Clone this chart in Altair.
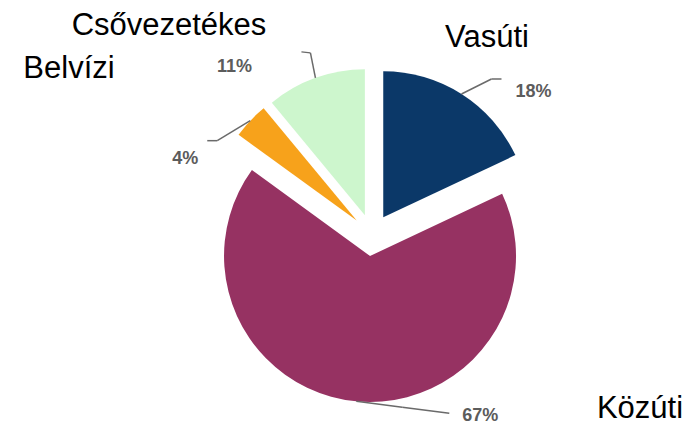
import altair as alt
import pandas as pd

# ---- data ----
categories = ["Vasúti", "Közúti", "Belvízi", "Csővezetékes"]
shares = [18, 67, 4, 11]
colors = ["#0b3868", "#963262", "#f7a21b", "#cdf6cd"]

# ---- layout (pixels inside the view) ----
W, H = 678, 418
CX, CY, R, EXPLODE = 364, 227, 146, 21
leader_elbow = [(30, -15), (46, 6), (-33, 20), (-5, -25)]
leader_end = [(40, -15), (93, 12), (-43, 20), (-14, -26)]
pct_offset = [(72, -2), (124, 15), (-65, 38), (-81, -11)]
name_pos = [(479, 39), (632, 410), (61, 70), (161, 27)]

df = pd.DataFrame({
    "cat": categories,
    "share": shares,
    "order": list(range(len(categories))),
    "edx": [p[0] for p in leader_elbow],
    "edy": [p[1] for p in leader_elbow],
    "fdx": [p[0] for p in leader_end],
    "fdy": [p[1] for p in leader_end],
    "ldx": [p[0] for p in pct_offset],
    "ldy": [p[1] for p in pct_offset],
    "nx": [p[0] for p in name_pos],
    "ny": [p[1] for p in name_pos],
})

base = (
    alt.Chart(df)
    .transform_joinaggregate(total="sum(share)")
    .transform_window(cum="sum(share)", sort=[alt.SortField("order")], frame=[None, 0])
    .transform_calculate(
        t0="2*PI*(datum.cum-datum.share)/datum.total",
        t1="2*PI*datum.cum/datum.total",
    )
    .transform_calculate(mid="(datum.t0+datum.t1)/2")
    .transform_calculate(
        cx=f"{CX}+{EXPLODE}*sin(datum.mid)",
        cy=f"{CY}-{EXPLODE}*cos(datum.mid)",
    )
    .transform_calculate(
        sx=f"datum.cx+{R}*sin(datum.mid)",
        sy=f"datum.cy-{R}*cos(datum.mid)",
    )
    .transform_calculate(
        ex="datum.sx+datum.edx",
        ey="datum.sy+datum.edy",
        fx="datum.sx+datum.fdx",
        fy="datum.sy+datum.fdy",
        lx="datum.sx+datum.ldx",
        ly="datum.sy+datum.ldy",
        pct="datum.share + '%'",
    )
)

def X(f):
    return alt.X(f, type="quantitative", scale=None, axis=None)

def Y(f):
    return alt.Y(f, type="quantitative", scale=None, axis=None)

arcs = base.mark_arc(radius=R).encode(
    theta=alt.Theta("t0:Q", scale=None, stack=None),
    theta2=alt.Theta2("t1:Q"),
    x=X("cx"),
    y=Y("cy"),
    color=alt.Color("cat:N", scale=alt.Scale(domain=categories, range=colors), legend=None),
)

lead1 = base.mark_rule(color="#6a6a6a", strokeWidth=1.5).encode(
    x=X("sx"), y=Y("sy"), x2="ex:Q", y2="ey:Q"
)
lead2 = base.mark_rule(color="#6a6a6a", strokeWidth=1.5).encode(
    x=X("ex"), y=Y("ey"), x2="fx:Q", y2="fy:Q"
)

pct = base.mark_text(
    font="Liberation Sans", fontSize=18, fontWeight="bold", color="#5c5c5c",
    align="center", baseline="middle",
).encode(x=X("lx"), y=Y("ly"), text="pct:N")

names = base.mark_text(
    font="Liberation Sans", fontSize=31, color="#000000",
    align="center", baseline="alphabetic",
).encode(x=X("nx"), y=Y("ny"), text="cat:N")

chart = (
    alt.layer(arcs, lead1, lead2, pct, names)
    .properties(
        width=W, height=H, padding=0,
        autosize=alt.AutoSizeParams(type="fit", contains="padding"),
    )
    .configure_view(stroke=None)
)

chart.save("out.html", embed_options={"renderer": "svg", "actions": False})
